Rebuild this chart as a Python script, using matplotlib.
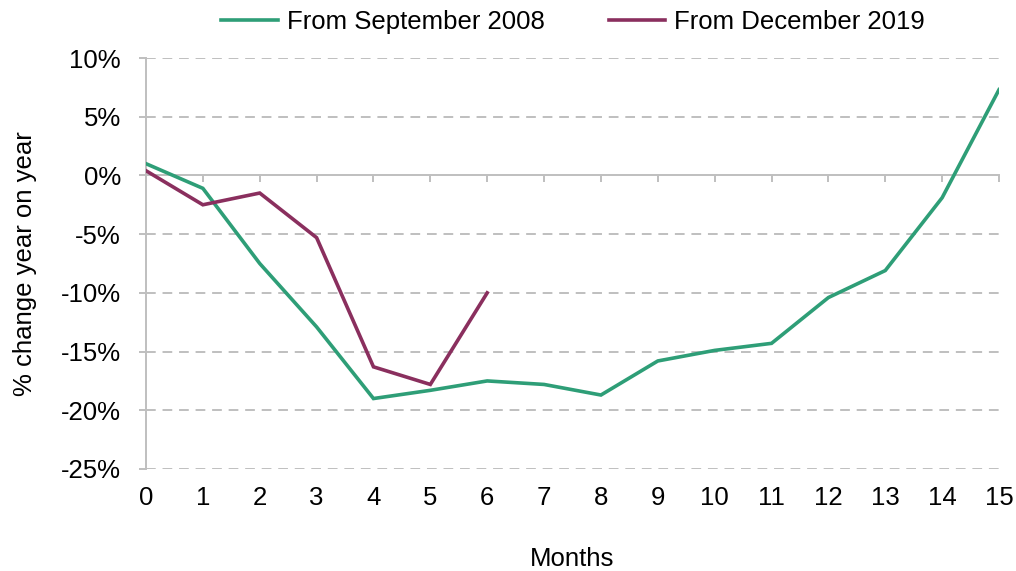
import matplotlib.pyplot as plt
from matplotlib.ticker import FuncFormatter

plt.rcParams['font.family'] = ['Liberation Sans', 'DejaVu Sans']

# Data
months = list(range(16))
sep_2008 = [1.0, -1.1, -7.5, -12.9, -19.0, -18.3, -17.5, -17.8, -18.7,
            -15.8, -14.9, -14.3, -10.4, -8.1, -1.9, 7.3]
dec_2019_months = list(range(7))
dec_2019 = [0.4, -2.5, -1.5, -5.3, -16.3, -17.8, -10.0]
y_ticks = [10, 5, 0, -5, -10, -15, -20, -25]

green = '#2E9E77'
purple = '#8A2F5E'
grey = '#BFBFBF'
fs = 18.5

fig = plt.figure(figsize=(10.16, 5.71), dpi=100)
ax = fig.add_axes([146 / 1016, 1 - 469 / 571, (999 - 146) / 1016, (469 - 58) / 571])

ax.set_xlim(0, 15)
ax.set_ylim(-25, 10)
ax.set_yticks(y_ticks)
ax.set_xticks(months)
ax.yaxis.set_major_formatter(FuncFormatter(lambda v, _: f'{v:.0f}%'))

# dashed gridlines, solid zero line
for v in y_ticks:
    if v != 0:
        ax.axhline(v, color=grey, lw=1.4, ls=(0, (5, 3.5)), zorder=1)

for s in ['top', 'right', 'bottom']:
    ax.spines[s].set_visible(False)
ax.spines['left'].set_color(grey)
ax.spines['left'].set_linewidth(1.4)
ax.tick_params(axis='y', colors=grey, length=5, width=1.4, labelsize=fs,
               labelcolor='black', pad=13)
ax.tick_params(axis='x', length=0, labelsize=fs, pad=12)

# x axis drawn through zero
zero_ax = ax.secondary_xaxis(0, transform=ax.transData)
zero_ax.set_xticks(months)
zero_ax.tick_params(axis='x', colors=grey, length=5, width=1.4, labelbottom=False)
zero_ax.spines['bottom'].set_color(grey)
zero_ax.spines['bottom'].set_linewidth(1.4)

ax.plot(months, sep_2008, color=green, lw=2.6, label='From September 2008',
        zorder=3, solid_joinstyle='miter')
ax.plot(dec_2019_months, dec_2019, color=purple, lw=2.6, label='From December 2019',
        zorder=3, solid_joinstyle='miter')

ax.set_xlabel('Months', fontsize=fs, labelpad=27)
ax.set_ylabel('% change year on year', fontsize=fs, labelpad=17)

fig.legend(loc='center', bbox_to_anchor=(573 / 1016, 1 - 22 / 571), ncol=2,
           frameon=False, fontsize=fs, handlelength=2.2, handletextpad=0.35,
           columnspacing=2.5)

fig.savefig('out.png', dpi=100)
